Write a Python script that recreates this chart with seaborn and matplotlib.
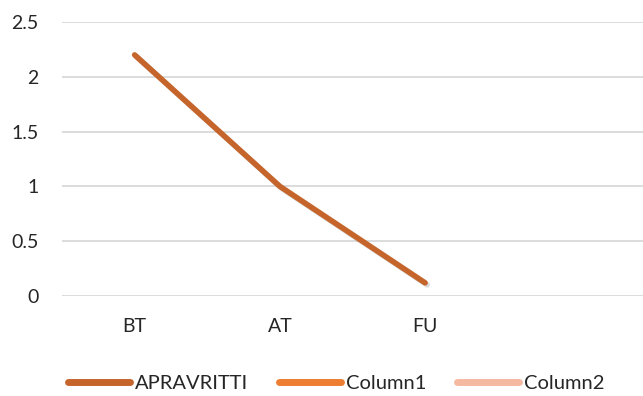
import matplotlib
matplotlib.use("Agg")
import matplotlib.pyplot as plt
import matplotlib.patheffects as pe
from matplotlib.lines import Line2D
import seaborn as sns
import pandas as pd

categories = ["BT", "AT", "FU"]
apravritti = [2.2, 1.0, 0.12]
series_names = ["APRAVRITTI", "Column1", "Column2"]
series_colors = ["#C5652B", "#ED7D31", "#F4B9A0"]
y_ticks = [0, 0.5, 1, 1.5, 2, 2.5]
y_tick_labels = ["0", "0.5", "1", "1.5", "2", "2.5"]

sns.set_theme(style="white")
plt.rcParams["font.family"] = ["Lato", "DejaVu Sans"]

df = pd.DataFrame({"cat": categories, "value": apravritti, "series": series_names[0]})

fig = plt.figure(figsize=(6.43, 3.96), dpi=100)
ax = fig.add_axes([62 / 643, 100 / 396, 1 - 62 / 643, 274 / 396])

sns.lineplot(data=df, x="cat", y="value", color=series_colors[0], linewidth=4.0,
             sort=False, ax=ax, legend=False,
             path_effects=[pe.SimpleLineShadow(offset=(1.5, -1.5), shadow_color="#999999", alpha=0.35),
                           pe.Normal()],
             solid_capstyle="round", solid_joinstyle="round")

ax.set_xlim(-0.5, 3.5)
ax.set_ylim(0, 2.5)
ax.set_yticks(y_ticks)
ax.set_yticklabels(y_tick_labels)
ax.set_xticks(range(len(categories)))
ax.set_xticklabels(categories)
ax.set_xlabel("")
ax.set_ylabel("")
for s in ax.spines.values():
    s.set_visible(False)
ax.grid(axis="y", color="#D9D9D9", linewidth=1.3, zorder=0)
ax.grid(axis="x", visible=False)
ax.set_axisbelow(True)
ax.tick_params(axis="y", length=0, pad=17, labelsize=14, labelcolor="#262626")
ax.tick_params(axis="x", length=0, pad=16, labelsize=14, labelcolor="#262626")
for lbl in ax.get_yticklabels():
    lbl.set_horizontalalignment("right")

handles = [Line2D([0], [0], color=c, linewidth=5, solid_capstyle="round") for c in series_colors]
fig.legend(handles, series_names, loc="center", bbox_to_anchor=(0.523, 0.032),
           ncol=3, frameon=False, fontsize=14.5, handlelength=3.1, handletextpad=0.25,
           columnspacing=1.5, labelcolor="#262626", borderpad=0)

fig.savefig("out.png", dpi=100)
